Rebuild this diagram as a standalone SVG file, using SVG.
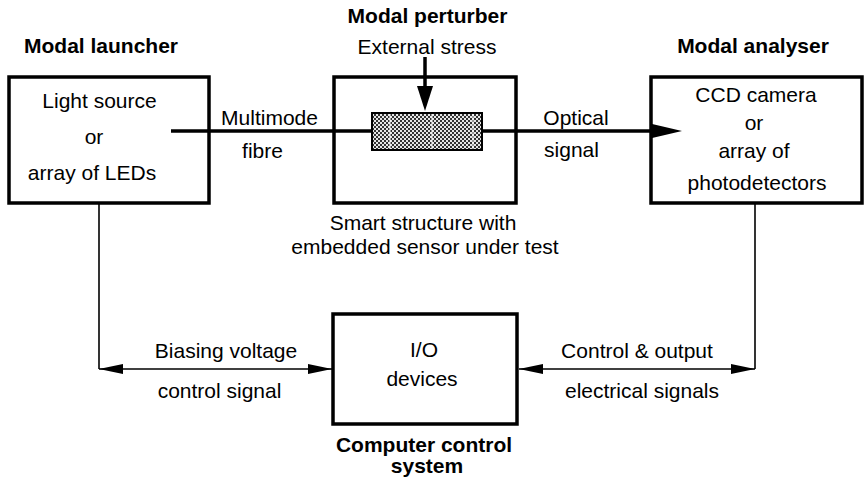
<svg xmlns="http://www.w3.org/2000/svg" width="865" height="482" viewBox="0 0 865 482">
<style>
text{font-family:"Liberation Sans",Arial,Helvetica,sans-serif;font-size:21px;fill:#000;text-anchor:middle}
.b{font-weight:bold}
.box{fill:#fff;stroke:#000;stroke-width:3.5}
.thin{fill:none;stroke:#000;stroke-width:1.6}
.thick{fill:none;stroke:#000;stroke-width:3.5}
</style>
<defs>
<pattern id="hatch" width="4" height="4" patternUnits="userSpaceOnUse">
<rect width="4" height="4" fill="#e6e6e6"/>
<rect x="0" y="0" width="2" height="2" fill="#333"/>
<rect x="2" y="2" width="2" height="2" fill="#333"/>
</pattern>
<marker id="ah" markerWidth="24" markerHeight="10" refX="24" refY="5" orient="auto-start-reverse" markerUnits="userSpaceOnUse">
<path d="M0,0 L24,5 L0,10 Z" fill="#000"/>
</marker>
</defs>

<g id="launcher">
<text class="b" x="101" y="53">Modal launcher</text>
<rect class="box" x="9" y="77" width="200" height="126"/>
<text x="99.5" y="108">Light source</text>
<text x="94" y="144">or</text>
<text x="92" y="180">array of LEDs</text>
</g>

<g id="perturber">
<text class="b" x="427.5" y="23">Modal perturber</text>
<text x="427" y="54">External stress</text>
<rect class="box" x="334" y="77" width="182" height="126"/>
<text x="423" y="230">Smart structure with</text>
<text x="425" y="254">embedded sensor under test</text>
</g>

<g id="analyser">
<text class="b" x="753" y="53">Modal analyser</text>
<rect class="box" x="651" y="77" width="211" height="126"/>
<text x="756" y="102">CCD camera</text>
<text x="754" y="130">or</text>
<text x="754" y="158">array of</text>
<text x="757" y="190">photodetectors</text>
</g>

<g id="io">
<rect class="box" x="333" y="314" width="184" height="110"/>
<text x="424" y="357">I/O</text>
<text x="422" y="386">devices</text>
<text class="b" x="424" y="452">Computer control</text>
<text class="b" x="427" y="473">system</text>
</g>

<g id="connectors">
<line class="thick" x1="171" y1="131" x2="372" y2="131"/>
<line class="thick" x1="481" y1="131" x2="652" y2="131"/>
<path d="M650,123.5 L682,131 L650,138.5 Z" fill="#000"/>
<g id="sensor">
<rect x="372" y="113" width="110" height="37" fill="url(#hatch)" stroke="#000" stroke-width="2"/>
<line x1="390" y1="114" x2="390" y2="149" stroke="#fff" stroke-width="1"/>
<line x1="432" y1="114" x2="432" y2="149" stroke="#fff" stroke-width="1"/>
<line x1="473" y1="114" x2="473" y2="149" stroke="#fff" stroke-width="1"/>
</g>
<line class="thick" x1="425" y1="57" x2="425" y2="88"/>
<path d="M417,86 L433,86 L425,111 Z" fill="#000"/>
<text x="269.5" y="125">Multimode</text>
<text x="262.5" y="158">fibre</text>
<text x="576" y="125">Optical</text>
<text x="571.5" y="157">signal</text>

<polyline class="thin" points="99,204 99,369"/>
<line class="thin" x1="99" y1="369" x2="332" y2="369" marker-start="url(#ah)" marker-end="url(#ah)"/>
<text x="226" y="358">Biasing voltage</text>
<text x="219.5" y="398">control signal</text>

<polyline class="thin" points="755,204 755,369"/>
<line class="thin" x1="519" y1="369" x2="755" y2="369" marker-start="url(#ah)" marker-end="url(#ah)"/>
<text x="637" y="358">Control &amp; output</text>
<text x="642" y="398">electrical signals</text>
</g>
</svg>
